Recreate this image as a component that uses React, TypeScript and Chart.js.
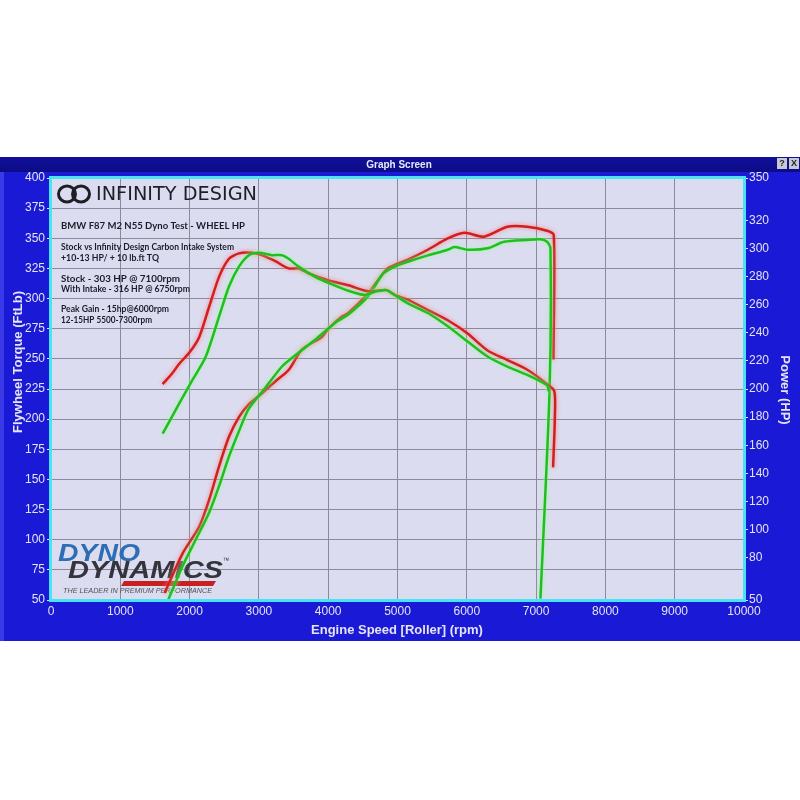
import React, { useEffect, useRef } from 'react';
import { Chart, registerables } from 'chart.js';

Chart.register(...registerables);

// ---- axis ticks ----
const rpmMin = 0;
const rpmMax = 10000;
const torqueMin = 50;
const torqueMax = 400;
const powerMin = 50;
const powerMax = 350;
const powerTicks = [50, 80, 100, 120, 140, 160, 180, 200, 220, 240, 260, 280, 300, 320, 350];

// ---- Stock (green) torque, ft.lb ----
const stockTorqueRpm = [1611, 1851, 2042, 2234, 2425, 2568, 2712, 2855, 2998, 3189, 3333, 3429, 3572, 3812, 4003, 4290, 4529, 4673, 4840, 4960, 5151, 5438, 5725, 6012, 6299, 6586, 6872, 7159, 7183];
const stockTorque = [188, 213, 232.5, 252, 285, 310, 326.5, 336, 338, 336, 336, 333, 326.5, 318, 313, 306.5, 303, 305.7, 307, 303, 296, 288, 277, 264.4, 252, 243.6, 236.7, 228, 223];

// ---- With intake (red) torque, ft.lb ----
const intakeTorqueRpm = [1611, 1750, 1851, 1994, 2138, 2281, 2425, 2568, 2712, 2898, 3042, 3238, 3429, 3572, 3716, 4003, 4290, 4577, 4840, 4960, 5151, 5438, 5725, 6012, 6299, 6586, 6872, 7159, 7264, 7270, 7245];
const intakeTorque = [229, 238, 246, 255, 268, 293, 318, 333, 337.5, 338, 336, 331, 325, 325, 321, 315, 311, 306, 307, 303, 299, 290.5, 282, 271, 257, 249, 241, 229, 223, 200, 160];

// ---- Stock (green) power, HP ----
const stockPowerRpm = [1690, 1898, 2090, 2281, 2425, 2568, 2712, 2855, 3095, 3333, 3525, 3812, 4099, 4290, 4577, 4792, 4960, 5151, 5438, 5725, 5821, 6012, 6299, 6538, 6872, 7063, 7159, 7207, 7195, 7063];
const stockPower = [50, 74, 93, 112, 131, 152, 170, 186, 201, 216, 224, 235, 247, 253, 266, 282, 287, 290.5, 295, 299, 301, 299, 300, 304.7, 306, 306.4, 304.7, 300, 200, 51];

// ---- With intake (red) power, HP ----
const intakePowerRpm = [1640, 1898, 2138, 2281, 2425, 2568, 2712, 2855, 2998, 3238, 3429, 3620, 3907, 4003, 4194, 4290, 4577, 4720, 4864, 5151, 5438, 5725, 5964, 6251, 6586, 6872, 7159, 7255, 7250];
const intakePower = [55, 83, 102, 121, 145, 166, 180, 189, 195, 205.5, 213.5, 228, 237, 243, 251.4, 254, 268, 277.5, 286, 292, 299, 307, 311, 308.3, 315.4, 315.4, 312.5, 309.5, 221];

// ---- texts ----
const headerTitle = 'Graph Screen';
const brandName = 'INFINITY DESIGN';
const noteLines = [
  'BMW F87 M2 N55 Dyno Test - WHEEL HP',
  'Stock vs Infinity Design Carbon Intake System',
  '+10-13 HP/ + 10 lb.ft TQ',
  'Stock - 303 HP @ 7100rpm',
  'With Intake - 316 HP @ 6750rpm',
  'Peak Gain - 15hp@6000rpm',
  '12-15HP 5500-7300rpm',
];
const xTitle = 'Engine Speed [Roller] (rpm)';
const yTitle = 'Flywheel Torque (FtLb)';
const y1Title = 'Power (HP)';

const RED = '#cf1f1f';
const RED_GLOW = 'rgba(255,120,120,0.95)';
const GREEN = '#1fbf1f';
const GREEN_GLOW = 'rgba(150,255,150,0.95)';
const LABEL = '#e4e4f2';

function toPoints(xs: number[], ys: number[]) {
  return xs.map((x, i) => ({ x, y: ys[i] }));
}

function fitText(ctx: CanvasRenderingContext2D, text: string, x: number, y: number, w: number, font: string, color: string) {
  ctx.save();
  ctx.font = font;
  ctx.fillStyle = color;
  ctx.textBaseline = 'middle';
  ctx.textAlign = 'left';
  const m = ctx.measureText(text).width;
  ctx.translate(x, y);
  ctx.scale(w / m, 1);
  ctx.fillText(text, 0, 0);
  ctx.restore();
}

const framePlugin = {
  id: 'frame',
  beforeDraw(chart: any) {
    const { ctx, chartArea: a } = chart;
    ctx.save();
    ctx.fillStyle = '#ffffff';
    ctx.fillRect(0, 0, 800, 800);
    // blue frame
    ctx.fillStyle = '#1a1ad6';
    ctx.fillRect(0, 157, 800, 484);
    ctx.fillStyle = '#3a3ae8';
    ctx.fillRect(0, 157, 4, 484);
    // title bar
    const g = ctx.createLinearGradient(0, 157, 0, 172);
    g.addColorStop(0, '#10109c');
    g.addColorStop(1, '#0c0c86');
    ctx.fillStyle = g;
    ctx.fillRect(0, 157, 800, 15);
    ctx.fillStyle = '#e8e8ff';
    ctx.font = 'bold 10px "Liberation Sans", Arial, sans-serif';
    ctx.textAlign = 'center';
    ctx.textBaseline = 'middle';
    ctx.fillText(headerTitle, 399, 165);
    // window buttons
    ctx.fillStyle = '#c8c8d4';
    ctx.fillRect(777, 158, 10, 11);
    ctx.fillRect(789, 158, 10, 11);
    ctx.fillStyle = '#222';
    ctx.font = 'bold 9px "Liberation Sans", Arial, sans-serif';
    ctx.fillText('?', 782, 164);
    ctx.fillText('X', 794, 164);
    // plot background
    ctx.fillStyle = '#dcdcf1';
    ctx.fillRect(a.left, a.top, a.right - a.left, a.bottom - a.top);
    ctx.restore();
  },
  beforeDatasetsDraw(chart: any) {
    const { ctx } = chart;
    ctx.save();
    // Infinity design logo
    ctx.strokeStyle = '#1e1e24';
    ctx.lineWidth = 3;
    ctx.beginPath();
    ctx.ellipse(67, 194, 8.5, 8, 0, 0, Math.PI * 2);
    ctx.stroke();
    ctx.beginPath();
    ctx.ellipse(81, 194, 8.5, 8, 0, 0, Math.PI * 2);
    ctx.stroke();
    fitText(ctx, brandName, 96, 195, 161, '500 19px "DejaVu Sans", sans-serif', '#1e1e24');
    // notes
    const noteFont = 'bold 9px Lato, "Open Sans", sans-serif';
    fitText(ctx, noteLines[0], 61, 226, 184, 'bold 10px Lato, "Open Sans", sans-serif', '#1c1c28');
    fitText(ctx, noteLines[1], 61, 247, 173, noteFont, '#1c1c28');
    fitText(ctx, noteLines[2], 61, 258, 98, noteFont, '#1c1c28');
    fitText(ctx, noteLines[3], 61, 279, 119, noteFont, '#1c1c28');
    fitText(ctx, noteLines[4], 61, 289, 129, noteFont, '#1c1c28');
    fitText(ctx, noteLines[5], 61, 309, 108, noteFont, '#1c1c28');
    fitText(ctx, noteLines[6], 61, 320, 91, noteFont, '#1c1c28');
    // Dyno Dynamics logo
    fitText(ctx, 'DYNO', 58, 554, 82, 'italic 900 24px "Liberation Sans", Arial, sans-serif', '#2e6db4');
    ctx.fillStyle = '#c82020';
    ctx.beginPath();
    ctx.moveTo(124, 581);
    ctx.lineTo(216, 581);
    ctx.lineTo(213, 586);
    ctx.lineTo(121, 586);
    ctx.closePath();
    ctx.fill();
    fitText(ctx, 'DYNAMICS', 68, 571, 155, 'italic 900 24px "Liberation Sans", Arial, sans-serif', '#34343c');
    fitText(ctx, '™', 223, 561, 6, '8px sans-serif', '#34343c');
    fitText(ctx, 'THE LEADER IN PREMIUM PERFORMANCE', 63, 591, 149, 'italic 7px "Liberation Sans", Arial, sans-serif', '#50505a');
    ctx.restore();
  },
  beforeDatasetDraw(chart: any, args: any) {
    const ds = chart.data.datasets[args.index];
    chart.ctx.save();
    chart.ctx.shadowColor = ds.glow;
    chart.ctx.shadowBlur = 4;
  },
  afterDatasetDraw(chart: any) {
    chart.ctx.restore();
  },
  afterDraw(chart: any) {
    const { ctx, chartArea: a } = chart;
    ctx.save();
    // cyan border
    ctx.strokeStyle = '#48e4f6';
    ctx.lineWidth = 3;
    ctx.strokeRect(a.left - 0.5, a.top - 0.5, a.right - a.left + 1, a.bottom - a.top + 1);
    // axis titles
    ctx.fillStyle = LABEL;
    ctx.font = 'bold 13px "Liberation Sans", Arial, sans-serif';
    ctx.textAlign = 'center';
    ctx.textBaseline = 'middle';
    ctx.fillText(xTitle, 397, 630);
    ctx.save();
    ctx.translate(18, 362);
    ctx.rotate(-Math.PI / 2);
    ctx.fillText(yTitle, 0, 0);
    ctx.restore();
    ctx.save();
    ctx.translate(785, 390);
    ctx.rotate(Math.PI / 2);
    ctx.fillText(y1Title, 0, 0);
    ctx.restore();
    ctx.restore();
  },
};

export default function App() {
  const ref = useRef<HTMLCanvasElement | null>(null);
  useEffect(() => {
    if (!ref.current) return;
    const tickFont = { family: '"Liberation Sans", Arial, sans-serif', size: 12 };
    const chart = new Chart(ref.current, {
      type: 'line',
      data: {
        datasets: [
          { label: 'Stock Torque', data: toPoints(stockTorqueRpm, stockTorque), yAxisID: 'y', borderColor: GREEN, glow: GREEN_GLOW } as any,
          { label: 'Intake Torque', data: toPoints(intakeTorqueRpm, intakeTorque), yAxisID: 'y', borderColor: RED, glow: RED_GLOW } as any,
          { label: 'Stock Power', data: toPoints(stockPowerRpm, stockPower), yAxisID: 'y1', borderColor: GREEN, glow: GREEN_GLOW } as any,
          { label: 'Intake Power', data: toPoints(intakePowerRpm, intakePower), yAxisID: 'y1', borderColor: RED, glow: RED_GLOW } as any,
        ],
      },
      options: {
        responsive: false,
        animation: false,
        events: [],
        layout: { padding: { top: 178, bottom: 159, left: 0, right: 0 } },
        plugins: { legend: { display: false }, tooltip: { enabled: false } },
        elements: {
          point: { radius: 0 },
          line: { tension: 0.25, borderWidth: 2.5, fill: false },
        },
        scales: {
          x: {
            type: 'linear',
            min: rpmMin,
            max: rpmMax,
            ticks: { stepSize: 1000, color: LABEL, font: tickFont, padding: 4, maxRotation: 0, autoSkip: false, callback: (v: any) => String(v) },
            grid: { color: '#8a8a9c', drawTicks: false, lineWidth: 1 },
            border: { display: false },
            afterFit: (s: any) => { s.height = 41; },
          },
          y: {
            type: 'linear',
            position: 'left',
            min: torqueMin,
            max: torqueMax,
            ticks: { stepSize: 25, color: LABEL, font: tickFont, padding: 2 },
            grid: { color: '#8a8a9c', tickColor: LABEL, tickLength: 4, lineWidth: 1 },
            border: { display: false },
            afterFit: (s: any) => { s.width = 51; },
          },
          y1: {
            type: 'linear',
            position: 'right',
            min: powerMin,
            max: powerMax,
            afterBuildTicks: (s: any) => { s.ticks = powerTicks.map((v) => ({ value: v })); },
            ticks: { color: LABEL, font: tickFont, padding: 1 },
            grid: { drawOnChartArea: false, tickColor: LABEL, tickLength: 4 },
            border: { display: false },
            afterFit: (s: any) => { s.width = 56; },
          },
        },
      } as any,
      plugins: [framePlugin],
    });
    return () => chart.destroy();
  }, []);
  return (
    <div style={{ position: 'absolute', left: 0, top: 0, width: 800, height: 800 }}>
      <canvas ref={ref} width={800} height={800} style={{ display: 'block', width: 800, height: 800 }} />
    </div>
  );
}
